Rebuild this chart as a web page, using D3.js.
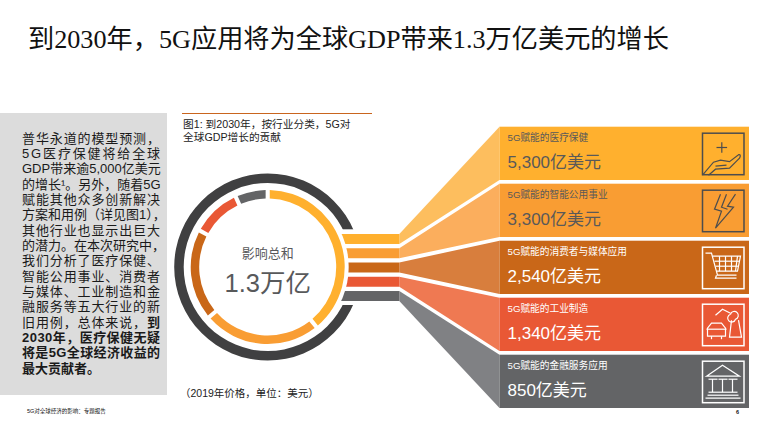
<!DOCTYPE html>
<html>
<head>
<meta charset="utf-8">
<script src="https://cdn.jsdelivr.net/npm/d3@7"></script>
<style>
  html, body { margin: 0; padding: 0; background: #fff; }
  svg { display: block; }
  text { font-family: "Liberation Sans", "Noto Sans CJK SC", sans-serif; }
</style>
</head>
<body>
<svg id="chart" width="768" height="430"></svg>
<script>
// data
var categories = ['5G赋能的医疗保健', '5G赋能的智能公用事业', '5G赋能的消费者与媒体应用', '5G赋能的工业制造', '5G赋能的金融服务应用'];
var values = [5300, 3300, 2540, 1340, 850];
var valueLabels = ['5,300亿美元', '3,300亿美元', '2,540亿美元', '1,340亿美元', '850亿美元'];

var titleText = '到2030年，5G应用将为全球GDP带来1.3万亿美元的增长';
var captionLines = ['图1: 到2030年，按行业分类，5G对', '全球GDP增长的贡献'];
var noteText = '（2019年价格，单位：美元）';
var footerText = '5G对全球经济的影响：专题报告';
var centerLabel = '影响总和';
var centerValue = '1.3万亿';

// [regular part, bold part]
var bodyLines = [
  ['普华永道的模型预测，', ''],
  ['5G医疗保健将给全球', ''],
  ['GDP带来逾5,000亿美元', ''],
  ['的增长¹。另外，随着5G', ''],
  ['赋能其他众多创新解决', ''],
  ['方案和用例（详见图1），', ''],
  ['其他行业也显示出巨大', ''],
  ['的潜力。在本次研究中，', ''],
  ['我们分析了医疗保健、', ''],
  ['智能公用事业、消费者', ''],
  ['与媒体、工业制造和金', ''],
  ['融服务等五大行业的新', ''],
  ['旧用例，总体来说，', '到'],
  ['', '2030年，医疗保健无疑'],
  ['', '将是5G全球经济收益的'],
  ['', '最大贡献者。']
];

var panelColors = ['#FFB02E', '#F99D33', '#C96718', '#E95835', '#636466'];
var fanColors = ['#FDBE5E', '#FBAE5D', '#D87E3D', '#EF7952', '#808184'];
var labelColors = ['#595959', '#595959', '#fff', '#fff', '#fff'];
var darkRing = '#404041';

var svg = d3.select('#chart');

// title
svg.append('text').attr('x', 28).attr('y', 48)
  .style('font-family', '"Liberation Serif", "Noto Sans CJK SC", serif')
  .style('font-size', '26.2px').attr('fill', '#111')
  .text(titleText);

// left text block
svg.append('rect').attr('x', 0).attr('y', 113).attr('width', 167).attr('height', 282).attr('fill', '#DCDCDC');

var bodyY = d3.scaleLinear().domain([0, bodyLines.length - 1]).range([142.5, 372.5]);
var bodyText = svg.selectAll('.body').data(bodyLines).enter().append('text')
  .attr('class', 'body')
  .attr('x', 22)
  .attr('y', function(d, i) { return bodyY(i); })
  .style('font-size', '13px')
  .attr('fill', '#1a1a1a');

bodyText.append('tspan').text(function(d) { return d[0]; });
bodyText.append('tspan').style('font-weight', 'bold').text(function(d) { return d[1]; });

// spread the lines out to the block width, like justified text
bodyText.each(function(d, i) {
  if (i === bodyLines.length - 1) return;
  var len = this.getComputedTextLength();
  var n = (d[0] + d[1]).length;
  if (len < 138) d3.select(this).style('letter-spacing', ((138 - len) / (n - 1)) + 'px');
});

// caption
svg.append('line').attr('x1', 182).attr('x2', 372).attr('y1', 113.5).attr('y2', 113.5)
  .attr('stroke', '#C9651E').attr('stroke-width', 1);
svg.selectAll('.caption').data(captionLines).enter().append('text')
  .attr('class', 'caption')
  .attr('x', 183)
  .attr('y', function(d, i) { return 128 + i * 13; })
  .style('font-size', '10.7px').attr('fill', '#222')
  .text(function(d) { return d; });

svg.append('text').attr('x', 180).attr('y', 397)
  .style('font-size', '10.5px').attr('fill', '#222').text(noteText);

svg.append('text').attr('x', 27).attr('y', 413)
  .style('font-size', '5.5px').attr('fill', '#111').text(footerText);
svg.append('text').attr('x', 736).attr('y', 414)
  .style('font-size', '5.5px').style('font-weight', 'bold').attr('fill', '#111').text('6');

// scales for stripes and panels
var cx = 267.7, cy = 267;
var stripeY = d3.scaleBand().domain(categories).range([234, 301]).paddingInner(0.3);
var panelY = d3.scaleBand().domain(categories).range([126.7, 408]).paddingInner(0.065);
var fanX = d3.scaleLinear().domain([0, 1]).range([399.3, 499.5]);

// outer dark ring, opened on the right with flat ends
svg.append('path')
  .attr('transform', 'translate(' + cx + ',' + cy + ')')
  .attr('d', d3.arc()({ innerRadius: 84, outerRadius: 93.5, startAngle: 0, endAngle: 2 * Math.PI }))
  .attr('fill', darkRing);
svg.append('rect').attr('x', cx).attr('y', 229.3).attr('width', 110).attr('height', 75.7).attr('fill', '#fff');

// fans between stripes and panels
var fan = d3.area()
  .x(function(d) { return fanX(d.t); })
  .y0(function(d) { return d.y0; })
  .y1(function(d) { return d.y1; });

svg.selectAll('.fan').data(categories).enter().append('path')
  .attr('class', 'fan')
  .attr('fill', function(d, i) { return fanColors[i]; })
  .attr('d', function(d) {
    return fan([
      { t: 0, y0: stripeY(d), y1: stripeY(d) + stripeY.bandwidth() },
      { t: 1, y0: panelY(d), y1: panelY(d) + panelY.bandwidth() }
    ]);
  });

// stripes, their left ends get cut by the white disc below
svg.selectAll('.stripe').data(categories).enter().append('rect')
  .attr('class', 'stripe')
  .attr('x', cx + 40)
  .attr('y', function(d) { return stripeY(d); })
  .attr('width', fanX(0) - cx - 40)
  .attr('height', stripeY.bandwidth())
  .attr('fill', function(d, i) { return panelColors[i]; });

svg.append('circle').attr('cx', cx).attr('cy', cy).attr('r', 81).attr('fill', '#fff');

// inner donut
var pie = d3.pie().sort(null).padAngle(0.04);
var arc = d3.arc().innerRadius(68.5).outerRadius(77);
svg.append('g').attr('transform', 'translate(' + cx + ',' + cy + ')')
  .selectAll('path').data(pie(values)).enter().append('path')
  .attr('d', arc)
  .attr('fill', function(d, i) { return panelColors[i]; });

svg.append('text').attr('x', cx).attr('y', 258).attr('text-anchor', 'middle')
  .style('font-size', '13px').attr('fill', '#58595B').text(centerLabel);
svg.append('text').attr('x', cx).attr('y', 292).attr('text-anchor', 'middle')
  .style('font-size', '25.5px').attr('fill', '#58595B').text(centerValue);

// panels
var panels = svg.selectAll('.panel').data(categories).enter().append('g')
  .attr('class', 'panel')
  .attr('transform', function(d) { return 'translate(499.5,' + panelY(d) + ')'; });

panels.append('rect')
  .attr('width', 249.5)
  .attr('height', panelY.bandwidth())
  .attr('fill', function(d, i) { return panelColors[i]; });

panels.append('text').attr('x', 8).attr('y', 14)
  .style('font-size', '9.7px')
  .attr('fill', function(d, i) { return labelColors[i]; })
  .text(function(d) { return d; });

panels.append('text').attr('x', 8).attr('y', 41)
  .style('font-size', '17px')
  .attr('fill', function(d, i) { return labelColors[i]; })
  .text(function(d, i) { return valueLabels[i]; });

// icons, drawn in a 42x42 box
var iconPaths = [
  ['M19.3,9V19.5', 'M14,14.3H24.6',
   'M0,42L11,29L18,27L27,28.5L36,21.5Q39,21 37,25L27,35L13,36L6,42', 'M13,33L24,32'],
  ['M18,4L12,19L19,21L13,38L31,17L25,16L33,4', 'M24,4L19,17L25,19'],
  ['M3,6H9L15,28H34', 'M10,9H38L35,24H14', 'M12,14H37', 'M13,19H36', 'M17,9V24', 'M23,9V24', 'M29,9V24', 'M35,9L33,24',
   'M14,28L13,31H34'],
  ['M5,32V24L9,19H19L23,24V32Z', 'M4,25H24', 'M9,32V35', 'M19,32V35',
   'M13,11L20,5L28,9', 'M28,10A4,4 0 1 1 33,15A4,4 0 1 1 28,10', 'M29,16L27,33H39L36,16'],
  ['M4,15L20,4L37,15Z', 'M10,18V31', 'M20,18V31', 'M30,18V31', 'M6,18H15', 'M16,18H25', 'M26,18H35',
   'M6,31H35', 'M5,34H36', 'M3,37H38']
];
var iconStroke = ['#4d4d4d', '#4d4d4d', '#fff', '#fff', '#fff'];

var icons = panels.append('g')
  .attr('transform', function() { return 'translate(203,6.5)'; })
  .attr('fill', 'none')
  .attr('stroke', function(d, i) { return iconStroke[i]; });

icons.append('rect').attr('width', 41.5).attr('height', 41.5).attr('stroke-width', 1.5);

icons.selectAll('path')
  .data(function(d, i) { return iconPaths[i]; })
  .enter().append('path')
  .attr('stroke-width', 1.2)
  .attr('d', function(d) { return d; });
</script>
</body>
</html>
